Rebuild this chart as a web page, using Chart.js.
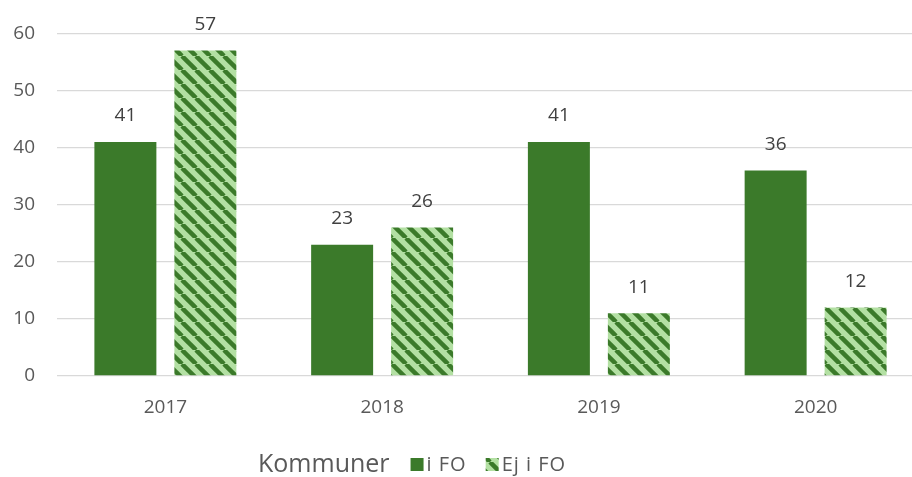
<!DOCTYPE html>
<html>
<head>
<meta charset="utf-8">
<script src="https://cdn.jsdelivr.net/npm/chart.js@4/dist/chart.umd.min.js"></script>
<style>
  html, body { margin: 0; padding: 0; background: #fff; overflow: hidden; }
  #wrap { width: 912px; height: 477px; overflow: hidden; }
</style>
</head>
<body>
<div id="wrap"><canvas id="chart" width="940" height="477"></canvas></div>
<script>
const years = ['2017', '2018', '2019', '2020'];
const inFO = [41, 23, 41, 36];
const notInFO = [57, 26, 11, 12];
const yTicks = [0, 10, 20, 30, 40, 50, 60];
const legendTitle = 'Kommuner';

const darkGreen = '#3b7a2a';
const lightGreen = '#b3e0a3';
const fontFamily = '"Open Sans", sans-serif';

function makeHatch() {
  const size = 14;
  const c = document.createElement('canvas');
  c.width = size;
  c.height = size;
  const g = c.getContext('2d');
  g.fillStyle = lightGreen;
  g.fillRect(0, 0, size, size);
  g.strokeStyle = darkGreen;
  g.lineWidth = 4.5;
  for (const a of [-size, 0, size]) {
    g.beginPath();
    g.moveTo(a, 0);
    g.lineTo(a + size, size);
    g.stroke();
  }
  return document.getElementById('chart').getContext('2d').createPattern(c, 'repeat');
}

const hatch = makeHatch();

// etiketter ovanför staplarna
const valueLabels = {
  id: 'valueLabels',
  afterDatasetsDraw(chart) {
    const ctx = chart.ctx;
    ctx.save();
    ctx.font = '19px ' + fontFamily;
    ctx.fillStyle = '#404040';
    ctx.textAlign = 'center';
    ctx.textBaseline = 'middle';
    chart.data.datasets.forEach((ds, i) => {
      chart.getDatasetMeta(i).data.forEach((bar, j) => {
        ctx.fillText(String(ds.data[j]), bar.x, bar.y - 26);
      });
    });
    ctx.restore();
  }
};

// förklaring med rubrik till vänster
const bottomLegend = {
  id: 'bottomLegend',
  afterDraw(chart) {
    const ctx = chart.ctx;
    const y = 465;
    let x = 258;
    ctx.save();
    ctx.textBaseline = 'middle';
    ctx.textAlign = 'left';
    ctx.fillStyle = '#595959';
    ctx.font = '25px ' + fontFamily;
    ctx.fillText(legendTitle, x, y);
    x += ctx.measureText(legendTitle).width + 21;
    ctx.font = '20px ' + fontFamily;
    ctx.letterSpacing = '1px';
    chart.data.datasets.forEach(ds => {
      ctx.fillStyle = ds.backgroundColor;
      ctx.fillRect(x, y - 7, 13, 13);
      x += 16;
      ctx.fillStyle = '#595959';
      ctx.fillText(ds.label, x, y);
      x += ctx.measureText(ds.label).width + 19;
    });
    ctx.restore();
  }
};

new Chart(document.getElementById('chart'), {
  type: 'bar',
  data: {
    labels: years,
    datasets: [
      { label: 'i FO', data: inFO, backgroundColor: darkGreen },
      { label: 'Ej i FO', data: notInFO, backgroundColor: hatch }
    ]
  },
  options: {
    responsive: false,
    animation: false,
    devicePixelRatio: 1,
    layout: { padding: { top: 31, right: 16, left: 0, bottom: 0 } },
    datasets: { bar: { categoryPercentage: 0.738, barPercentage: 0.775 } },
    plugins: {
      legend: { display: false },
      tooltip: { enabled: false }
    },
    scales: {
      x: {
        grid: { display: false, drawTicks: false },
        border: { display: false },
        ticks: { color: '#595959', font: { family: fontFamily, size: 19 }, padding: 20 },
        afterFit: s => { s.height = 101; }
      },
      y: {
        min: 0,
        max: 60,
        afterBuildTicks: s => { s.ticks = yTicks.map(v => ({ value: v })); },
        grid: { color: '#d9d9d9', lineWidth: 1.3, drawTicks: false },
        border: { display: false },
        ticks: { color: '#595959', font: { family: fontFamily, size: 19 }, padding: 22 },
        afterFit: s => { s.width = 57; }
      }
    }
  },
  plugins: [valueLabels, bottomLegend]
});
</script>
</body>
</html>
